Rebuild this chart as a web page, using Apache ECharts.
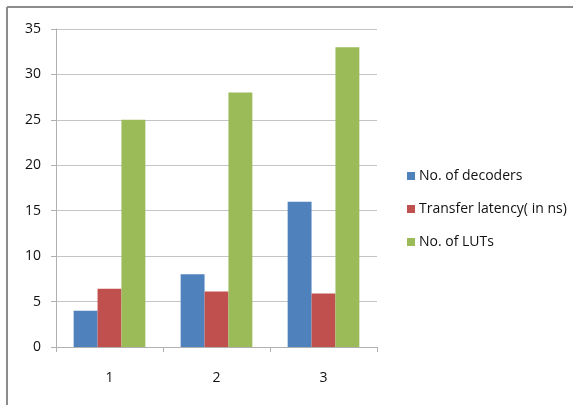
<!DOCTYPE html>
<html>
<head>
<meta charset="utf-8">
<script src="https://cdn.jsdelivr.net/npm/echarts@6/dist/echarts.min.js"></script>
<style>
  html, body { margin: 0; padding: 0; background: #fff; }
  #main { width: 573px; height: 405px; }
</style>
</head>
<body>
<div id="main"></div>
<script>
// data
var categories = ['1', '2', '3']
var decoders = [4, 8, 16]
var latency = [6.4, 6.1, 5.9]
var luts = [25, 28, 33]
var yTicks = [0, 35, 5]

var chart = echarts.init(document.getElementById('main'))
var font = 'Open Sans'
var option = {
  animation: false,
  backgroundColor: '#fff',
  textStyle: { fontFamily: font },
  graphic: [
    { type: 'line', shape: { x1: 7, y1: 7, x2: 573, y2: 7 }, style: { stroke: '#8c8c8c', lineWidth: 2 } },
    { type: 'line', shape: { x1: 7, y1: 7, x2: 7, y2: 405 }, style: { stroke: '#8c8c8c', lineWidth: 2 } }
  ],
  grid: { left: 56, top: 29, width: 321, height: 318, containLabel: false },
  legend: {
    orient: 'vertical',
    left: 402,
    top: 164,
    itemWidth: 8,
    itemHeight: 8,
    itemGap: 19,
    icon: 'rect',
    textStyle: { fontFamily: font, fontSize: 14, color: '#111', padding: [0, 0, 0, -1] },
    data: ['No. of decoders', 'Transfer latency( in ns)', 'No. of LUTs']
  },
  xAxis: {
    type: 'category',
    data: categories,
    axisLine: { lineStyle: { color: '#b0b0b0' } },
    axisTick: { show: true, length: 5, lineStyle: { color: '#b0b0b0' } },
    axisLabel: { fontSize: 14, color: '#111', margin: 24 }
  },
  yAxis: {
    type: 'value',
    min: yTicks[0],
    max: yTicks[1],
    interval: yTicks[2],
    axisLine: { show: true, lineStyle: { color: '#b0b0b0' } },
    axisTick: { show: true, length: 5, lineStyle: { color: '#b0b0b0' } },
    splitLine: { lineStyle: { color: '#c4c4c4' } },
    axisLabel: { fontSize: 14, color: '#111', margin: 15 }
  },
  series: [
    { name: 'No. of decoders', type: 'bar', data: decoders, barGap: '0%', barCategoryGap: '33%', itemStyle: { color: '#4f81bd' } },
    { name: 'Transfer latency( in ns)', type: 'bar', data: latency, itemStyle: { color: '#c0504d' } },
    { name: 'No. of LUTs', type: 'bar', data: luts, itemStyle: { color: '#9bbb59' } }
  ]
}
chart.setOption(option)
</script>
</body>
</html>
